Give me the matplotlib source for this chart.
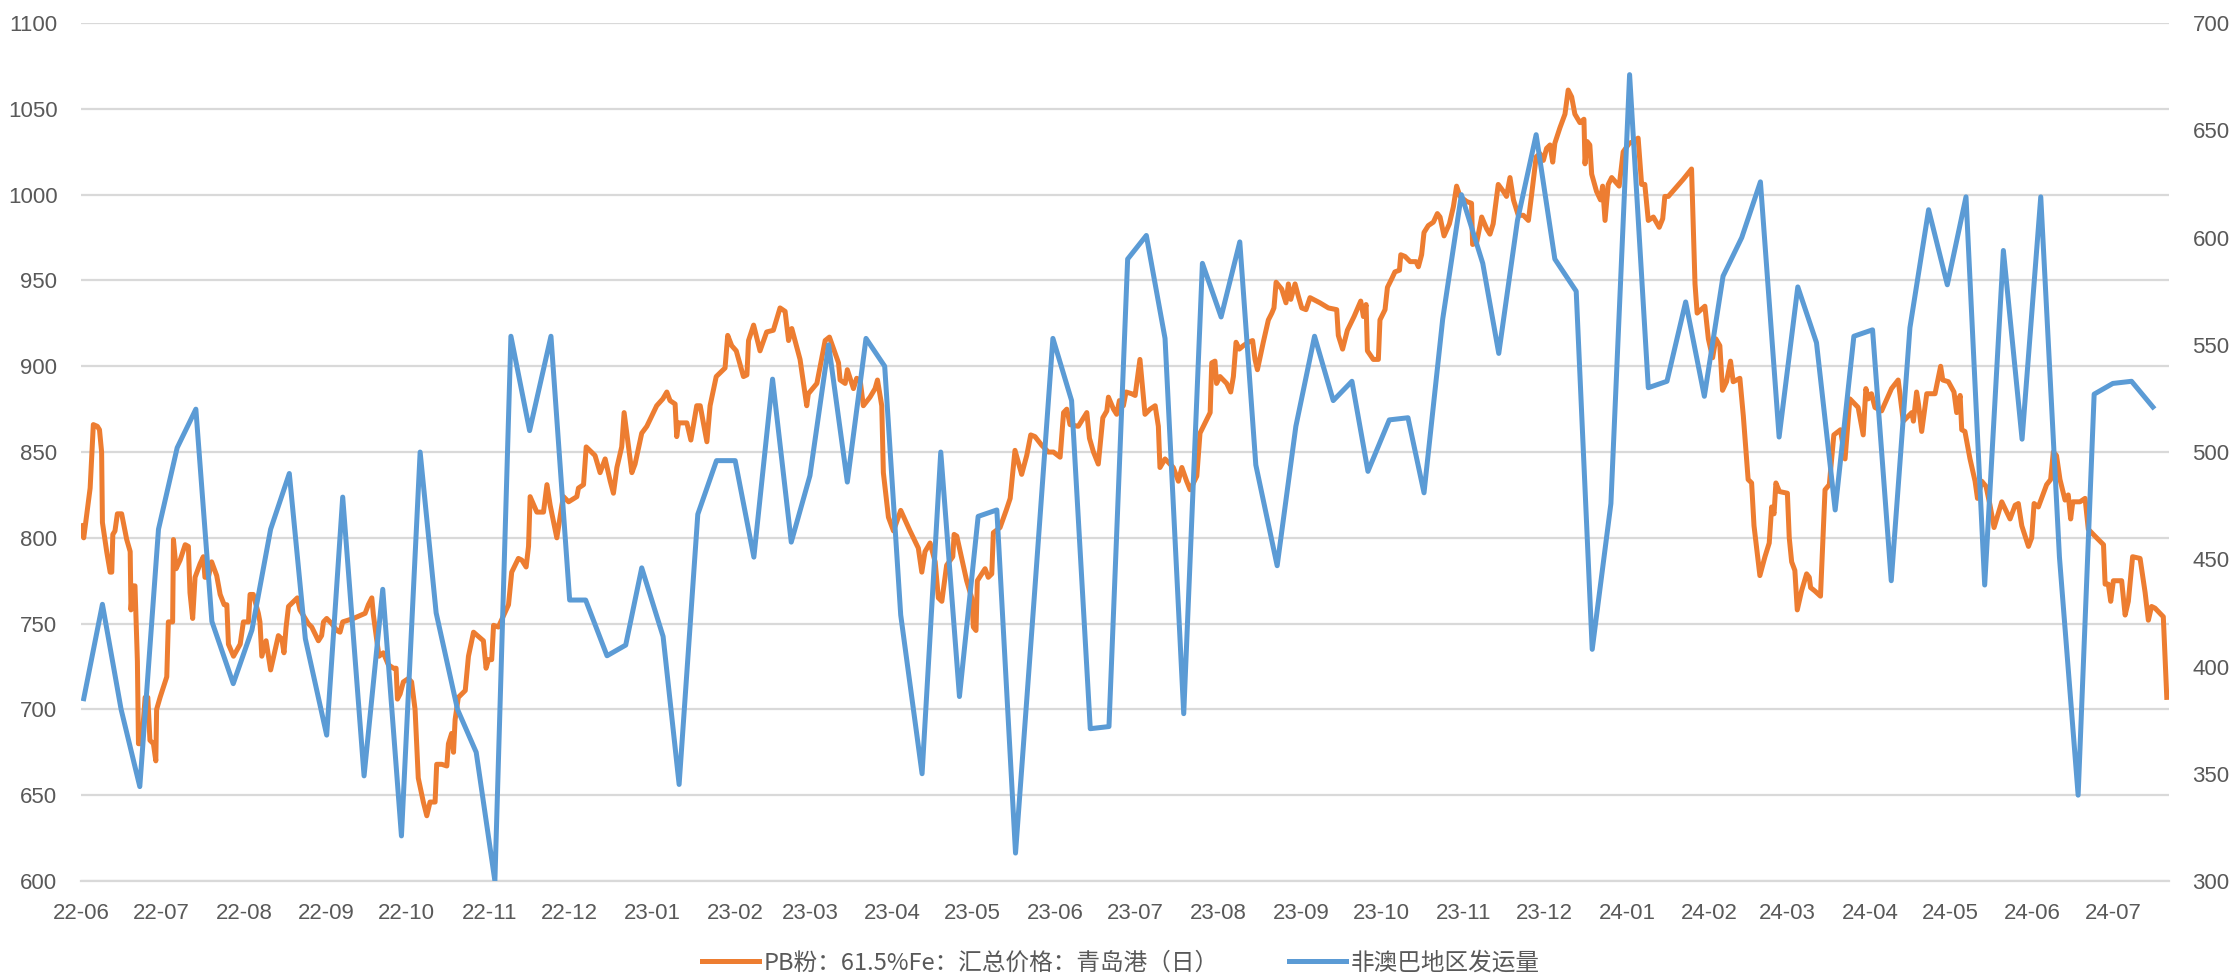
import matplotlib
matplotlib.use("Agg")
import matplotlib.pyplot as plt
import matplotlib.dates as mdates
import pandas as pd

START = pd.Timestamp("2022-06-01")

# PB粉 61.5%Fe 青岛港 daily price (left axis), x = days since 2022-06-01
pb_days = [
    0, 1, 3.4, 4.6, 6.1, 6.9, 7.7, 8, 9.6, 10.9, 11.5, 11.9, 12.7, 13.6, 15.2, 17.1, 18.4, 18.7, 19.4, 20.2,
    21.1, 21.5, 22.7, 24, 25, 25.8, 27.1, 28, 28.3, 29.6, 32.1, 32.7, 34.3, 34.6, 35.6, 37.1, 39, 40.2, 40.8, 41.8,
    42.7, 44.6, 45.8, 46.4, 47.7, 48.9, 50.8, 52.1, 53.6, 54.6, 55.2, 57.1, 59.6, 60.8, 62.7, 63.3, 64.5, 66.4, 67, 67.7,
    69.3, 71, 73.9, 75.2, 76, 76.8, 77.7, 81, 82, 85.1, 86.4, 88.9, 90.1, 90.8, 92, 93.9, 95.8, 97, 98, 102,
    106.4, 107.6, 108.9, 109.5, 110.7, 111.6, 113.2, 115.1, 117, 118, 118.5, 119.5, 120.7, 122.6, 123.8, 125.1, 126.3, 128.2, 129.5, 130.7,
    132.6, 133.2, 135.1, 137, 137.6, 138.8, 139.5, 140.1, 141.3, 143.9, 145.1, 147, 150.7, 151.7, 152.6, 153.8, 154.5, 156.3, 160.1, 161.3,
    163.8, 165.1, 166.7, 167.6, 168.2, 170.7, 173.2, 174.5, 175.7, 178.2, 180.1, 180.7, 182.6, 185.7, 186.3, 188.2, 189.2, 192.5, 194.4, 196.3,
    198.2, 199.4, 200.7, 202.5, 203.4, 206.3, 207.5, 210, 211.9, 215.6, 217.9, 219.4, 220.6, 222.5, 223.1, 223.8, 226.9, 228.4, 230.6, 231.9,
    234.4, 235.6, 237.9, 241.2, 242.2, 243.7, 245.4, 248.1, 249.4, 250, 251.9, 254.3, 256.8, 259.3, 261.8, 263.7, 265, 266.2, 269.3, 271.8,
    272.4, 275.6, 278.7, 280.3, 283.7, 284.3, 286.2, 287, 289.3, 290.5, 291.8, 293, 295.5, 297.4, 298.3, 299.9, 300.5, 302.4, 304.3, 307,
    310.5, 313.6, 314.9, 316.1, 318, 319.9, 321.1, 322.4, 324.2, 326.5, 327, 328, 331.7, 333.6, 334.2, 335.2, 335.7, 338.6, 339.8, 341.1,
    341.7, 344.2, 346.5, 348, 349.8, 352.3, 354.2, 355.7, 357.3, 359.8, 362.3, 364.2, 366.7, 368, 369.2, 370.4, 373.5, 376.7, 377.7, 379.2,
    381, 382.7, 384.2, 384.8, 386.7, 387.9, 388.9, 390.4, 391.4, 393.5, 394.8, 396.6, 398.5, 400.4, 402.3, 403.5, 404.1, 406, 409.1, 411,
    412.3, 414.1, 415.4, 417.9, 419.1, 422.9, 423.5, 424.7, 425.3, 426.6, 429.1, 430.6, 431.6, 432.6, 433.8, 435.3, 437.2, 438.8, 439.7, 440.6,
    442.8, 444.7, 446, 446.8, 447.6, 449.7, 451.3, 452.2, 453.1, 454.7, 455.9, 457.2, 458.8, 460.3, 464, 467.2, 470.3, 470.9, 472.5, 474.3,
    476.8, 479.3, 480.3, 481.3, 481.8, 484, 485.9, 486.5, 488.4, 489.3, 490.9, 492.1, 493.8, 494.3, 495.9, 497.8, 500, 500.9, 502.1, 503,
    504.6, 506.5, 508, 509, 510.5, 512.5, 514, 515.2, 516.5, 519, 520.8, 521.2, 522.7, 524.6, 526.5, 527.7, 528.9, 530.8, 532.7, 533.9,
    535.2, 536.5, 538.3, 540.2, 542.1, 543.3, 545, 546.4, 547.7, 548.9, 550.2, 551.2, 552, 553.9, 555.8, 557, 558.3, 559.5, 561.4, 562.9,
    563.3, 564.1, 565.1, 565.8, 567.6, 569.1, 569.9, 570.8, 572, 573.3, 576.1, 577.6, 579.9, 581.4, 583.2, 584.5, 585.7, 587, 588.9, 591.1,
    592.4, 593.2, 594.5, 600.1, 603.2, 604.5, 605.3, 608.2, 609.5, 611.1, 612.3, 613.8, 614.8, 616.3, 617.8, 618.8, 621.3, 622.6, 624.4, 625.7,
    626.6, 628.8, 630.7, 632.3, 633.2, 634.1, 634.8, 636.1, 639.1, 639.8, 640.7, 641.9, 642.8, 644.4, 646.3, 647.3, 647.8, 649.4, 651.5, 653.2,
    654.8, 656.5, 659, 660.7, 662.5, 665.6, 667.5, 668.5, 669.4, 670.6, 671.9, 674.4, 678.1, 680.6, 682.5, 685.7, 686.3, 687.5, 688.2, 689.4,
    691.3, 694.4, 696.5, 697.3, 699.4, 701.5, 702.5, 703.8, 704.4, 705.6, 707.5, 709.4, 710.3, 711.9, 713.5, 715, 716.5, 719.4, 722.5, 724.4,
    725.6, 726.9, 729.4, 730.6, 731.5, 733.1, 736.2, 737.7, 738.7, 739.9, 741.2, 743.1, 744.3, 745.2, 746, 748.7, 750.6, 751.8, 754.3, 757.5,
    758.1, 759.3, 760.2, 761.2, 764.3, 765.6, 766.8, 768.4, 771.2, 773.1, 774.3, 775.5, 776.8, 779.9, 781.2,
]
pb_price = [
    807, 800, 829, 866, 865, 863, 850, 809, 792, 780, 780, 802, 804, 814, 814, 799, 792, 758, 772, 772,
    728, 680, 680, 707, 707, 682, 680, 670, 700, 707, 719, 751, 751, 799, 782, 787, 796, 795, 768, 753,
    777, 785, 789, 777, 777, 786, 778, 767, 761, 761, 738, 731, 738, 751, 751, 767, 767, 756, 751, 731,
    740, 723, 743, 741, 733, 748, 760, 765, 758, 750, 748, 740, 743, 751, 753, 750, 746, 745, 751, 753,
    756, 761, 765, 755, 741, 731, 733, 726, 724, 724, 706, 709, 716, 718, 716, 700, 660, 646, 638, 646,
    646, 668, 668, 667, 680, 686, 675, 694, 707, 711, 731, 745, 740, 724, 729, 729, 749, 748, 761, 780,
    788, 787, 783, 795, 824, 815, 815, 831, 819, 800, 819, 824, 821, 824, 829, 831, 853, 848, 838, 846,
    833, 826, 841, 853, 873, 838, 843, 861, 865, 877, 881, 885, 880, 878, 859, 867, 867, 857, 877, 877,
    856, 877, 894, 899, 918, 912, 909, 894, 895, 915, 924, 909, 920, 921, 934, 932, 915, 922, 904, 877,
    884, 890, 915, 917, 902, 892, 890, 898, 887, 893, 892, 877, 882, 887, 892, 877, 838, 812, 804, 816,
    804, 794, 780, 792, 797, 786, 765, 763, 784, 789, 802, 801, 775, 765, 748, 746, 775, 782, 777, 779,
    803, 806, 816, 823, 851, 837, 848, 860, 859, 854, 850, 850, 847, 873, 875, 866, 865, 873, 858, 850,
    843, 870, 874, 882, 875, 872, 880, 877, 885, 884, 883, 904, 872, 875, 877, 865, 841, 846, 841, 833,
    841, 833, 828, 836, 861, 873, 902, 903, 890, 894, 890, 885, 894, 914, 910, 912, 914, 915, 904, 898,
    914, 927, 931, 934, 949, 945, 937, 948, 939, 948, 941, 934, 933, 940, 937, 934, 933, 918, 910, 921,
    929, 938, 929, 936, 909, 904, 904, 927, 933, 946, 951, 955, 956, 965, 964, 961, 961, 958, 965, 978,
    982, 984, 989, 987, 976, 983, 993, 1005, 999, 996, 995, 971, 972, 987, 980, 977, 983, 1006, 1002, 999,
    1010, 997, 988, 988, 985, 1000, 1022, 1024, 1020, 1027, 1029, 1019, 1030, 1039, 1047, 1061, 1057, 1047, 1042, 1044,
    1018, 1031, 1029, 1012, 1002, 997, 1005, 985, 1006, 1010, 1005, 1025, 1030, 1031, 1033, 1006, 1006, 985, 987, 981,
    986, 999, 999, 1009, 1015, 948, 931, 935, 916, 905, 916, 912, 886, 891, 903, 891, 893, 871, 834, 832,
    807, 778, 789, 797, 818, 814, 832, 827, 826, 800, 786, 781, 758, 769, 779, 777, 771, 769, 766, 828,
    831, 860, 863, 846, 881, 876, 860, 887, 881, 884, 876, 874, 887, 892, 868, 873, 868, 885, 878, 862,
    884, 884, 900, 892, 891, 885, 873, 883, 863, 862, 846, 833, 823, 833, 830, 819, 806, 821, 811, 819,
    820, 807, 795, 800, 820, 818, 831, 834, 850, 848, 834, 822, 825, 811, 821, 821, 823, 805, 801, 796,
    773, 773, 763, 775, 775, 755, 763, 789, 788, 768, 752, 760, 759, 754, 707,
]

# 非澳巴地区发运量 weekly (right axis)
ship_days = [
    1, 8, 15, 22, 29, 36, 43, 49, 57, 64, 71, 78, 84, 92, 98, 106, 113, 120, 127, 133,
    141, 148, 155, 161, 168, 176, 183, 189, 197, 204, 210, 218, 224, 231, 238, 245, 252, 259, 266, 273, 280,
    287, 294, 301, 307, 315, 322, 329, 336, 343, 350, 357, 364, 371, 378, 385, 392, 399, 406, 413, 420,
    427, 434, 440, 448, 455, 462, 469, 476, 482, 490, 497, 503, 510, 517, 525, 531, 538, 545, 552, 560,
    566, 573, 580, 587, 594, 601, 608, 615, 622, 629, 636, 643, 650, 657, 664, 671, 678, 685, 692, 699, 706,
    713, 720, 727, 734, 741, 748, 754, 761, 768, 776,
]
ship_vol = [
    385, 429, 380, 344, 464, 502, 520, 421, 392, 417, 464, 490, 413, 368, 479, 349, 436, 321, 500, 425,
    380, 360, 300, 554, 510, 554, 431, 431, 405, 410, 446, 414, 345, 471, 496, 496, 451, 534, 458, 489, 550,
    486, 553, 540, 424, 350, 500, 386, 470, 473, 313, 432, 553, 524, 371, 372, 590, 601, 553, 378, 588,
    563, 598, 494, 447, 512, 554, 524, 533, 491, 515, 516, 481, 562, 620, 588, 546, 608, 648, 590, 575,
    408, 476, 676, 530, 533, 570, 526, 582, 600, 626, 507, 577, 551, 473, 554, 557, 440, 558, 613, 578, 619,
    438, 594, 506, 619, 451, 340, 527, 532, 533, 521,
]

pb_label = "PB粉：61.5%Fe：汇总价格：青岛港（日）"
ship_label = "非澳巴地区发运量"

ORANGE = "#ED7D31"
BLUE = "#5B9BD5"
GRID = "#D9D9D9"
TXT = "#595959"

pb_dates = START + pd.to_timedelta(pb_days, unit="D")
ship_dates = START + pd.to_timedelta(ship_days, unit="D")

fig = plt.figure(figsize=(22.33, 9.77), dpi=100)
ax = fig.add_axes([0.0363, 0.0983, 0.935, 0.878])
ax2 = ax.twinx()

l1, = ax.plot(pb_dates, pb_price, color=ORANGE, lw=3.6, label=pb_label,
              solid_joinstyle="round", zorder=3)
l2, = ax2.plot(ship_dates, ship_vol, color=BLUE, lw=3.6, label=ship_label,
               solid_joinstyle="round", zorder=3)

ax.set_ylim(600, 1100)
ax.set_yticks(range(600, 1101, 50))
ax2.set_ylim(300, 700)
ax2.set_yticks(range(300, 701, 50))

ax.set_xlim(START, START + pd.Timedelta(days=782))
ax.xaxis.set_major_locator(mdates.MonthLocator())
ax.xaxis.set_major_formatter(mdates.DateFormatter("%y-%m"))

ax.grid(axis="y", color=GRID, lw=1.6)
ax.set_axisbelow(True)
for a in (ax, ax2):
    for s in a.spines.values():
        s.set_visible(False)
ax.spines["bottom"].set_visible(True)
ax.spines["bottom"].set_color(GRID)
ax.spines["bottom"].set_linewidth(1.6)

ax.tick_params(axis="both", length=0, colors=TXT)
ax2.tick_params(axis="y", length=0, colors=TXT)
ax.tick_params(axis="x", pad=16)
ax.tick_params(axis="y", pad=17)
ax2.tick_params(axis="y", pad=17)
for lab in ax.get_xticklabels() + ax.get_yticklabels() + ax2.get_yticklabels():
    lab.set_fontfamily("Liberation Sans")
    lab.set_fontsize(16)

fig.legend([l1, l2], [pb_label, ship_label], loc="center", bbox_to_anchor=(0.502, 0.0145),
           ncol=2, frameon=False, handlelength=2.4, handletextpad=0.2, columnspacing=3.0,
           prop={"family": ["Noto Sans CJK SC", "DejaVu Sans"], "size": 17}, labelcolor=TXT,
           borderpad=0.0)

fig.savefig("out.png", dpi=100, facecolor="white")
